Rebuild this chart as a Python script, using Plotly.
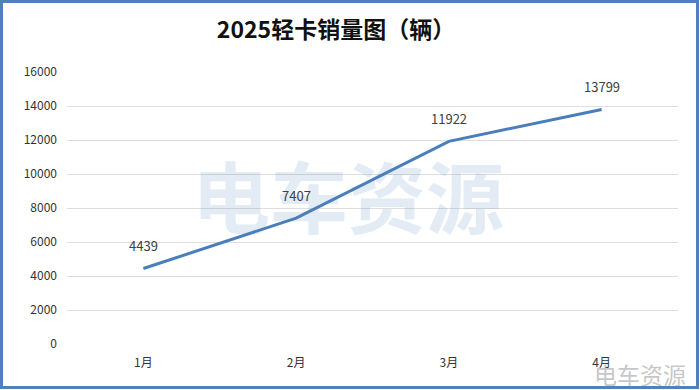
import plotly.graph_objects as go

months = ["1月", "2月", "3月", "4月"]
sales = [4439, 7407, 11922, 13799]
y_ticks = [0, 2000, 4000, 6000, 8000, 10000, 12000, 14000, 16000]
title_text = "2025轻卡销量图（辆）"
watermark = "电车资源"

W, H = 700, 390
ML, MR, MT, MB = 67, 22, 72, 46
pw, ph = W - ML - MR, H - MT - MB

def px_x(x):
    return (x - ML) / pw

def px_y(y):
    return (H - MB - y) / ph

CJK = "Noto Sans CJK SC, Noto Sans, sans-serif"

fig = go.Figure()
fig.add_trace(go.Scatter(
    x=months, y=sales, mode="lines",
    line=dict(color="#4a7ebb", width=3),
    hoverinfo="skip", showlegend=False,
))

label_annotations = [
    dict(x=m, y=v, xref="x", yref="y", text=str(v), showarrow=False,
         yshift=23, xanchor="center", yanchor="middle",
         font=dict(family=CJK, size=13, color="#404040"))
    for m, v in zip(months, sales)
]

fig.update_layout(
    width=W, height=H,
    margin=dict(l=ML, r=MR, t=MT, b=MB),
    paper_bgcolor="white", plot_bgcolor="rgba(0,0,0,0)",
    title=dict(text="<b>" + title_text + "</b>", x=336 / W, xanchor="center",
               y=1 - 30 / H, yanchor="middle",
               font=dict(family=CJK, size=23, color="#111111")),
    xaxis=dict(type="category", range=[-0.5, 3.5], showgrid=False,
               showline=False, ticks="", zeroline=False, ticklabelstandoff=10,
               tickfont=dict(family=CJK, size=12, color="#333333")),
    yaxis=dict(range=[0, 16000], tickvals=y_ticks, tickformat="d",
               showgrid=True, gridcolor="#dedede", gridwidth=1,
               zeroline=False, showline=False, ticks="", ticklabelstandoff=9,
               tickfont=dict(family=CJK, size=12, color="#333333")),
    annotations=[
        dict(text="<b>" + watermark + "</b>", xref="paper", yref="paper",
             x=px_x(348), y=px_y(194), xanchor="center", yanchor="middle",
             showarrow=False,
             font=dict(family=CJK, size=78, color="rgba(79,129,189,0.16)")),
        dict(text=watermark, xref="paper", yref="paper",
             x=px_x(640), y=px_y(374), xanchor="center", yanchor="middle",
             showarrow=False,
             font=dict(family=CJK, size=23, color="rgba(150,150,150,0.55)")),
    ] + label_annotations,
    shapes=[
        dict(type="rect", xref="paper", yref="paper",
             x0=px_x(1.5), x1=px_x(697.5), y0=px_y(387.5), y1=px_y(1.5),
             line=dict(color="#4f81bd", width=3), layer="above"),
    ],
)

fig.write_html("out.html",
               config={"displayModeBar": False},
               post_script="document.body.style.margin='0';document.body.style.overflow='hidden';")
